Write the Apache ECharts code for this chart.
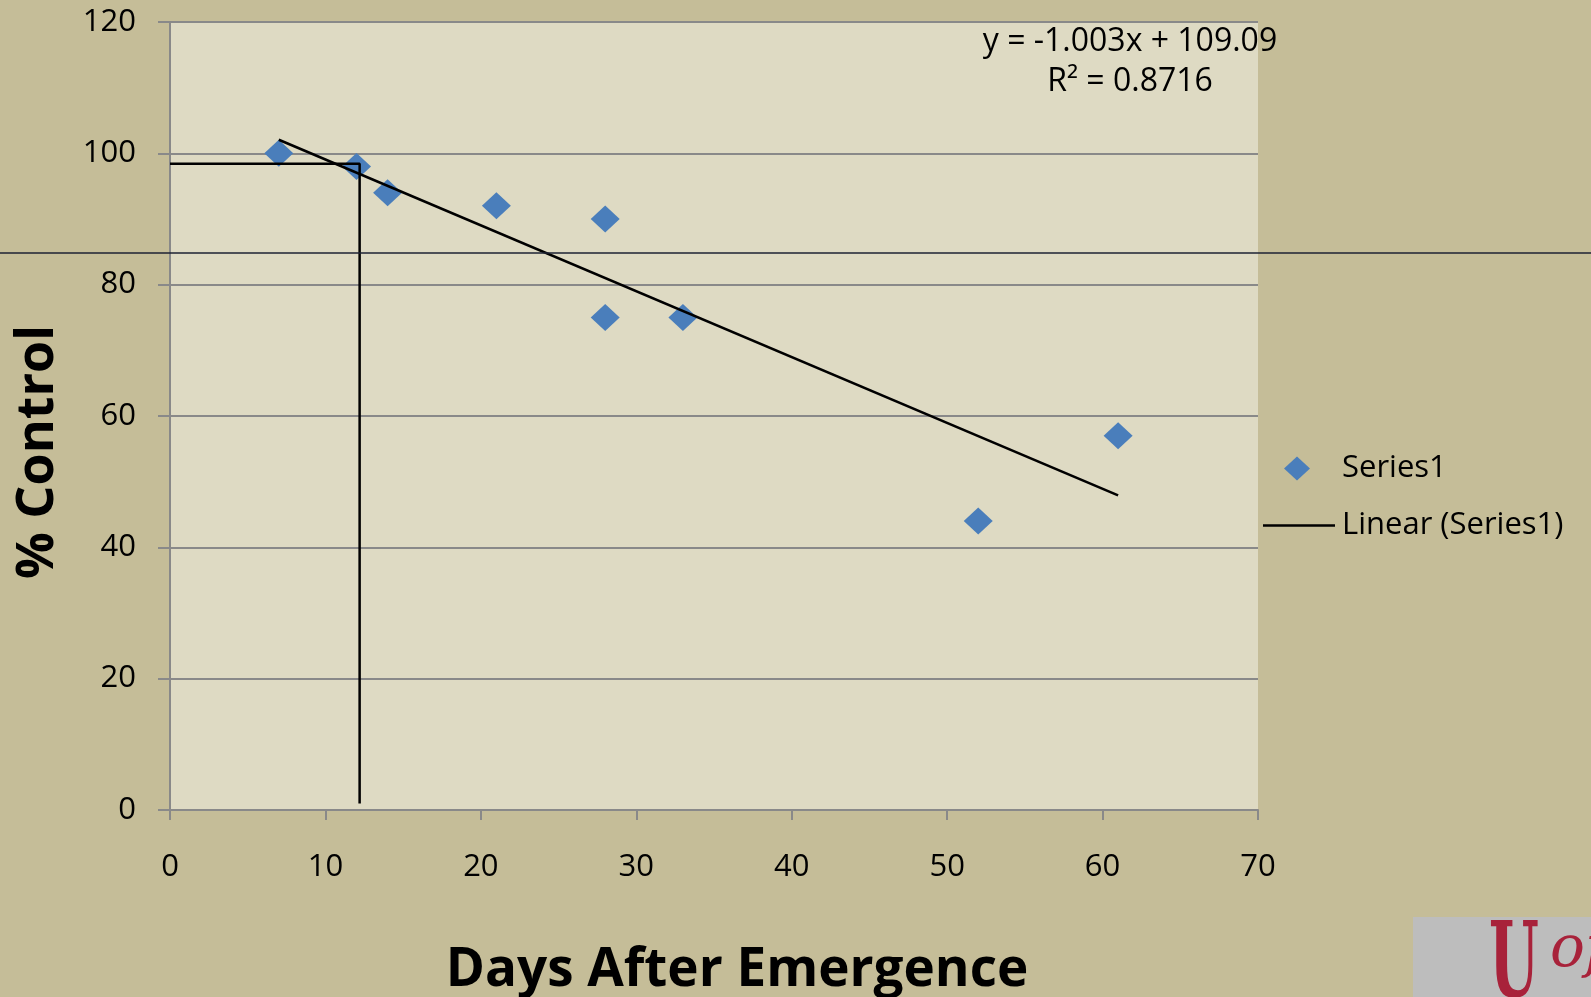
<!DOCTYPE html>
<html>
<head>
<meta charset="utf-8">
<script src="https://cdn.jsdelivr.net/npm/echarts@6/dist/echarts.min.js"></script>
<style>
  html, body { margin: 0; padding: 0; background: #c5bd98; }
  #myChart { width: 1591px; height: 997px; }
</style>
</head>
<body>
<div id="myChart"></div>
<script>
// days after emergence / % control
const days = [7, 12, 14, 21, 28, 28, 33, 52, 61]
const control = [100, 98, 94, 92, 90, 75, 75, 44, 57]
// hand drawn guide (x at ~98% control)
const guideX = [0, 12.2, 12.2]
const guideY = [98.4, 98.4, 1]
const xTicks = { min: 0, max: 70, step: 10 }
const yTicks = { min: 0, max: 120, step: 20 }
const eqText = 'y = -1.003x + 109.09'
const r2Text = 'R² = 0.8716'

// least squares fit for the trend line
let n = days.length
let mx = days.reduce((a, b) => a + b, 0) / n
let my = control.reduce((a, b) => a + b, 0) / n
let sxy = 0, sxx = 0
for (let i = 0; i < n; i++) {
    sxy += (days[i] - mx) * (control[i] - my)
    sxx += (days[i] - mx) * (days[i] - mx)
}
let slope = sxy / sxx
let icpt = my - slope * mx
let x0 = Math.min(...days), x1 = Math.max(...days)
let trend = [[x0, icpt + slope * x0], [x1, icpt + slope * x1]]

let font = '"Open Sans", Lato, sans-serif'
let chart = echarts.init(document.getElementById('myChart'))
chart.setOption({
    backgroundColor: '#c5bd98',
    animation: false,
    textStyle: { fontFamily: font },
    grid: {
        left: 170, top: 22, width: 1088, height: 788,
        outerBoundsMode: 'none',
        show: true, backgroundColor: '#dedac3', borderWidth: 0
    },
    legend: [
        {
            data: ['Series1'], left: 1279, top: 448, orient: 'vertical',
            itemWidth: 26, itemHeight: 24,
            textStyle: { fontSize: 31, color: '#000', fontFamily: font, padding: [0, 0, 0, 27] }
        },
        {
            data: [{ name: 'Linear (Series1)', icon: 'rect' }], left: 1258, top: 505, orient: 'vertical',
            itemWidth: 72, itemHeight: 2.5,
            itemStyle: { color: '#000' },
            textStyle: { fontSize: 31, color: '#000', fontFamily: font, padding: [0, 0, 0, 2] }
        }
    ],
    xAxis: {
        type: 'value', min: xTicks.min, max: xTicks.max, interval: xTicks.step,
        name: 'Days After Emergence', nameLocation: 'middle', nameGap: 134,
        nameTextStyle: { fontSize: 53, fontWeight: 'bold', color: '#000', fontFamily: font, padding: [0, 0, 0, 46] },
        axisLine: { lineStyle: { color: '#898989', width: 2 } },
        axisTick: { show: true, length: 10, lineStyle: { color: '#898989', width: 2 } },
        axisLabel: { fontSize: 31, color: '#000', margin: 42 },
        splitLine: { show: false }
    },
    yAxis: {
        type: 'value', min: yTicks.min, max: yTicks.max, interval: yTicks.step,
        name: '% Control', nameLocation: 'middle', nameGap: 106, nameRotate: 90,
        nameTextStyle: { fontSize: 52, fontWeight: 'bold', color: '#000', fontFamily: font, padding: [0, 72, 0, 0] },
        axisLine: { show: true, lineStyle: { color: '#898989', width: 2 } },
        axisTick: { show: true, length: 12, lineStyle: { color: '#898989', width: 2 } },
        axisLabel: { fontSize: 31, color: '#000', margin: 34 },
        splitLine: { show: true, lineStyle: { color: '#898989', width: 2 } }
    },
    series: [
        {
            name: 'Series1', type: 'scatter', symbol: 'diamond', symbolSize: [29, 27],
            itemStyle: { color: '#4a7ebb', opacity: 1 },
            data: days.map((d, i) => [d, control[i]]), z: 3
        },
        {
            name: 'Linear (Series1)', type: 'line', symbol: 'none',
            itemStyle: { color: '#000' },
            lineStyle: { color: '#000', width: 2.5 },
            data: trend, z: 4
        },
        {
            name: 'guide', type: 'line', symbol: 'none',
            lineStyle: { color: '#000', width: 2.5 },
            data: guideX.map((g, i) => [g, guideY[i]]), z: 4
        }
    ],
    graphic: [
        { type: 'text', style: { text: eqText, x: 1130, y: 42, align: 'center', verticalAlign: 'middle', fontSize: 32, fontFamily: font, fill: '#000' } },
        { type: 'text', style: { text: r2Text, x: 1130, y: 82, align: 'center', verticalAlign: 'middle', fontSize: 32, fontFamily: font, fill: '#000' } },
        { type: 'line', shape: { x1: 0, y1: 253, x2: 1591, y2: 253 }, style: { stroke: '#1c2233', lineWidth: 1.5 }, z: 10 },
        { type: 'rect', shape: { x: 1413, y: 917, width: 178, height: 80 }, style: { fill: '#bdbdbd' } },
        { type: 'text', x: 1514, y: 918, scaleX: 0.55, style: { text: 'U', x: 0, y: 0, align: 'center', fontSize: 104, fontWeight: 'bold', fontFamily: '"DejaVu Serif", serif', fill: '#a8223a' } },
        { type: 'text', style: { text: 'of', x: 1550, y: 922, fontSize: 58, fontStyle: 'italic', fontFamily: '"DejaVu Serif", serif', fill: '#a8223a' } }
    ]
})
</script>
</body>
</html>
